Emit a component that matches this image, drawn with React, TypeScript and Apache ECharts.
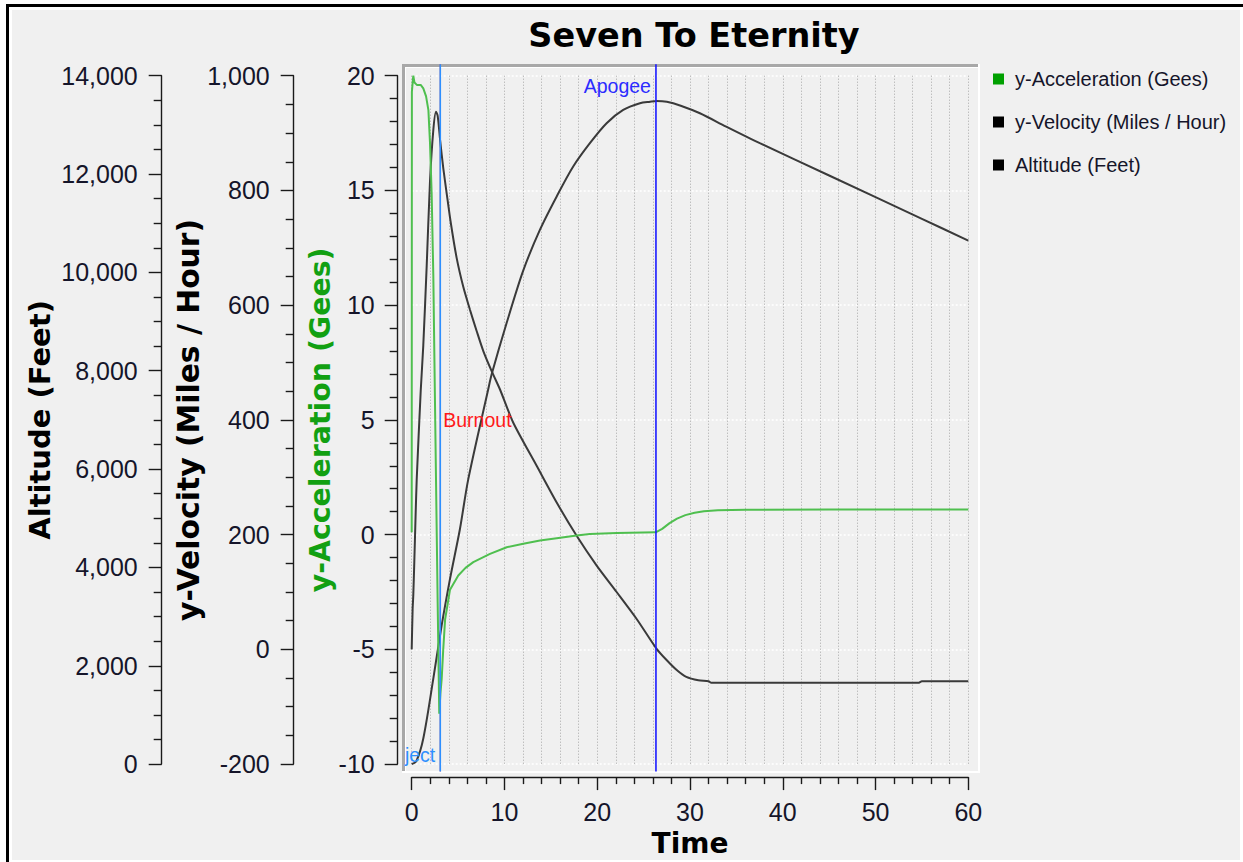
import React, { useEffect, useRef } from "react";
import * as echarts from "echarts";

const TITLE = "Seven To Eternity";
const X_NAME = "Time";
const SERIES_NAMES = ["y-Acceleration (Gees)", "y-Velocity (Miles / Hour)", "Altitude (Feet)"];
const AXIS_NAMES = ["y-Acceleration (Gees)", "y-Velocity (Miles / Hour)", "Altitude (Feet)"];

const accTime = [0, 0.02, 0.17, 0.3, 0.55, 0.97, 1.25, 1.55, 1.8, 1.97, 2.15, 2.33, 2.45, 2.62, 2.8, 2.97, 3.1, 3.23, 3.4, 3.6, 4.13, 5.02, 5.8, 6.64, 8.44, 10.24, 12.03, 13.83, 15.63, 17.78, 19.2, 22.1, 26.3, 27.0, 27.8, 28.6, 29.5, 30.5, 31.5, 33, 36, 45, 60];
const accValues = [0.1, 19.3, 20.0, 19.7, 19.6, 19.6, 19.45, 19.1, 18.5, 17.1, 14.9, 11.3, 7.6, 2.4, -3.0, -7.8, -6.9, -6.3, -5.0, -3.7, -2.4, -1.78, -1.45, -1.2, -0.84, -0.55, -0.4, -0.26, -0.16, -0.04, 0.03, 0.07, 0.1, 0.25, 0.5, 0.7, 0.85, 0.95, 1.02, 1.06, 1.08, 1.1, 1.1];

const velTime = [0, 0.1, 0.17, 0.28, 0.43, 0.54, 0.97, 1.25, 1.62, 1.97, 2.33, 2.62, 2.8, 3.08, 3.41, 3.77, 4.2, 4.85, 5.56, 6.28, 7.0, 7.72, 8.62, 9.52, 10.95, 13.47, 15.63, 17.78, 19.94, 22.09, 24.25, 26.4, 27.5, 28.6, 29.6, 30.9, 32.0, 32.3, 54.6, 55.0, 60];
const velValues = [0, 70, 94, 152, 239, 296, 450, 530, 670, 815, 905, 937, 930, 885, 838, 795, 745, 682, 632, 592, 555, 520, 485, 453, 395, 320, 256, 198, 146, 100, 53, 1, -19, -36.5, -48, -54, -55.7, -58.4, -58.4, -55.7, -55.7];

const altTime = [0, 0.5, 1.25, 2.33, 3.23, 4.13, 5.2, 6.1, 8.25, 8.62, 10.24, 12.03, 13.83, 15.63, 17.41, 19.21, 21.01, 22.8, 24.6, 25.7, 26.4, 27.5, 29, 31.07, 33.9, 37.53, 45, 55, 60];
const altValues = [0, 60, 521, 1739, 2820, 3767, 4782, 5796, 7623, 7927, 8975, 10040, 10868, 11544, 12153, 12627, 13033, 13303, 13439, 13471, 13486, 13470, 13390, 13236, 12964, 12627, 11970, 11090, 10645];

const eventNames = ["Burnout", "Eject", "Apogee"];
const eventTimes = [3.08, 3.08, 26.33];
const eventLabels = ["Burnout", "ject", "Apogee"];
const eventLabelValues = [5, -9.6, 19.55];

const pair = (ts: number[], vs: number[]) => ts.map((t, i) => [t, vs[i]]);

const LABEL_FONT = "Liberation Sans";
const BOLD_FONT = "DejaVu Sans";
const INK = "#15152a";

export default function App() {
  const ref = useRef<HTMLDivElement>(null);
  useEffect(() => {
    const chart = echarts.init(ref.current!, null, { renderer: "svg" });
    const axisCommon = (offset: number, min: number, max: number, interval: number, minorSplit: number, name: string, nameGap: number, nameColor: string, nameSize: number) => ({
      type: "value",
      position: "left",
      offset,
      min,
      max,
      interval,
      name,
      nameLocation: "middle",
      nameGap,
      nameTextStyle: { fontFamily: BOLD_FONT, fontWeight: "bold", fontSize: nameSize, color: nameColor },
      axisLine: { show: true, onZero: false, lineStyle: { color: "#1a1a1a", width: 1.4 } },
      axisTick: { show: true, length: 13, lineStyle: { color: "#1a1a1a", width: 1.4 } },
      minorTick: { show: true, splitNumber: minorSplit, length: 8, lineStyle: { color: "#1a1a1a", width: 1.4 } },
      axisLabel: { margin: 24, fontFamily: LABEL_FONT, fontSize: 25, color: INK },
      splitLine: { show: false },
    });

    const accAxis: any = axisCommon(14, -10, 20, 5, 5, AXIS_NAMES[0], 60, "#12a012", 28.4);
    accAxis.axisLabel.margin = 23;
    accAxis.splitLine = { show: true, lineStyle: { color: "#ffffff", width: 1.5, type: [2, 2] } };

    const eventColors = ["#ff2020", "#2d8fff", "#1a1aff"];
    const eventSeries = eventNames.map((n, i) => ({
      name: n,
      type: "line",
      yAxisIndex: 0,
      clip: false,
      silent: true,
      showSymbol: false,
      z: i === 0 ? 1 : 4,
      lineStyle: { color: eventColors[i], width: i === 0 ? 1 : 1.6 },
      data: [[eventTimes[i], -10.32], [eventTimes[i], 20.5]],
      markPoint: {
        symbol: "circle",
        symbolSize: 0,
        silent: true,
        itemStyle: { color: "transparent" },
        data: [
          {
            coord: [eventTimes[i], eventLabelValues[i]],
            label: {
              show: true,
              formatter: eventLabels[i],
              position: i === 0 ? "right" : "left",
              distance: i === 0 ? 3 : 5,
              fontFamily: LABEL_FONT,
              fontSize: 19.5,
              color: i === 0 ? "#ff1a1a" : i === 1 ? "#2d8fff" : "#2b2bff",
            },
          },
        ],
      },
    }));

    const option: any = {
      animation: false,
      backgroundColor: "transparent",
      title: {
        text: TITLE,
        left: 689,
        top: 13,
        textAlign: "center",
        textStyle: { fontFamily: BOLD_FONT, fontWeight: "bold", fontSize: 33.5, color: "#000" },
      },
      legend: {
        orient: "vertical",
        left: 988,
        top: 64,
        icon: "rect",
        itemWidth: 11,
        itemHeight: 11,
        itemGap: 23,
        textStyle: { fontFamily: LABEL_FONT, fontSize: 20, color: INK, padding: [0, 0, 0, 6] },
        data: [
          { name: SERIES_NAMES[0], itemStyle: { color: "#00a000" } },
          { name: SERIES_NAMES[1], itemStyle: { color: "#000000" } },
          { name: SERIES_NAMES[2], itemStyle: { color: "#000000" } },
        ],
      },
      graphic: [
        { type: "rect", z: -10, shape: { x: 12, y: 10, width: 1228, height: 850 }, style: { fill: "#f0f0f0" } },
        { type: "rect", z: -10, shape: { x: 6, y: 4, width: 1237, height: 3 }, style: { fill: "#000" } },
        { type: "rect", z: -10, shape: { x: 6, y: 4, width: 3, height: 858 }, style: { fill: "#000" } },
        { type: "rect", z: -9, shape: { x: 402, y: 64, width: 578, height: 709 }, style: { fill: "#ffffff" } },
        { type: "rect", z: -8, shape: { x: 402, y: 64, width: 576, height: 707 }, style: { fill: "#a8a8a8" } },
        { type: "rect", z: -7, shape: { x: 405, y: 67, width: 573, height: 704 }, style: { fill: "#ffffff" } },
        { type: "rect", z: -6, shape: { x: 406, y: 68, width: 572, height: 703 }, style: { fill: "#f0f0f0" } },
      ],
      grid: { left: 411.7, top: 75.7, width: 556.6, height: 690, containLabel: false },
      xAxis: {
        type: "value",
        min: 0,
        max: 60,
        interval: 10,
        offset: 13,
        name: X_NAME,
        nameLocation: "middle",
        nameGap: 50,
        nameTextStyle: { fontFamily: BOLD_FONT, fontWeight: "bold", fontSize: 28, color: "#000" },
        axisLine: { show: true, onZero: false, lineStyle: { color: "#1a1a1a", width: 1.4 } },
        axisTick: { show: true, length: 13, lineStyle: { color: "#1a1a1a", width: 1.4 } },
        minorTick: { show: true, splitNumber: 5, length: 7, lineStyle: { color: "#1a1a1a", width: 1.4 } },
        axisLabel: { margin: 22, fontFamily: LABEL_FONT, fontSize: 25, color: INK },
        splitLine: { show: true, lineStyle: { color: "#a8a8a8", width: 1, type: [1, 2] } },
        minorSplitLine: { show: true, lineStyle: { color: "#a8a8a8", width: 1, type: [1, 2] } },
      },
      yAxis: [
        accAxis,
        axisCommon(118, -200, 1000, 200, 4, AXIS_NAMES[1], 86, "#000", 29.8),
        axisCommon(250, 0, 14000, 2000, 4, AXIS_NAMES[2], 107, "#000", 29),
      ],
      series: [
        {
          name: SERIES_NAMES[0],
          type: "line",
          yAxisIndex: 0,
          showSymbol: false,
          z: 3,
          itemStyle: { color: "#00a000" },
          lineStyle: { color: "#4fbf4f", width: 2 },
          data: pair(accTime, accValues),
        },
        {
          name: SERIES_NAMES[1],
          type: "line",
          yAxisIndex: 1,
          showSymbol: false,
          z: 2,
          smooth: 0.25,
          itemStyle: { color: "#000000" },
          lineStyle: { color: "#3a3a3a", width: 2 },
          data: pair(velTime, velValues),
        },
        {
          name: SERIES_NAMES[2],
          type: "line",
          yAxisIndex: 2,
          showSymbol: false,
          z: 2,
          smooth: 0.3,
          itemStyle: { color: "#000000" },
          lineStyle: { color: "#3a3a3a", width: 2 },
          data: pair(altTime, altValues),
        },
        ...eventSeries,
      ],
    };
    chart.setOption(option);
    return () => chart.dispose();
  }, []);
  return <div ref={ref} style={{ position: "absolute", left: 0, top: 0, width: 1243, height: 862 }} />;
}
